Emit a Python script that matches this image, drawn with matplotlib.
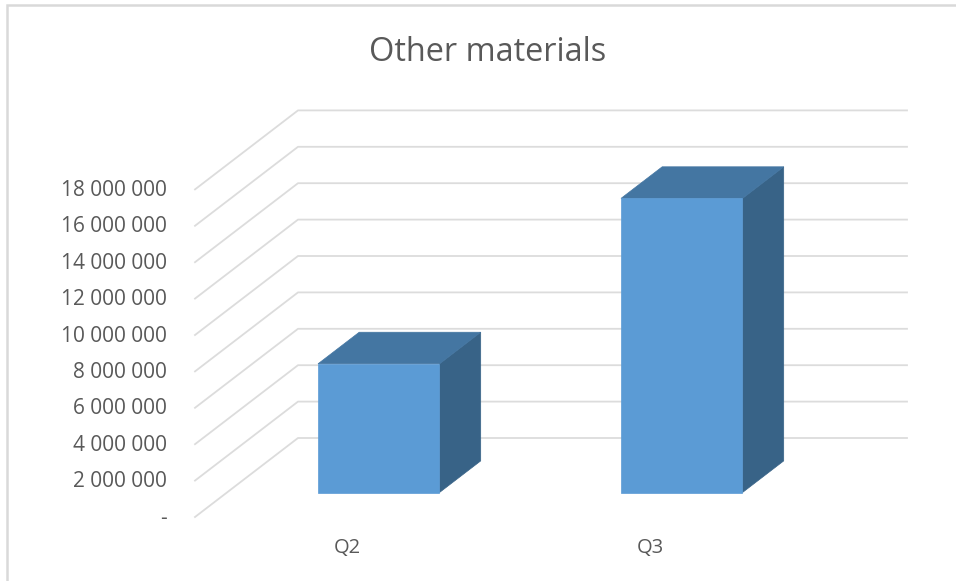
"""Other materials - 3D style column chart"""
import matplotlib
matplotlib.use('Agg')
import matplotlib.pyplot as plt
from matplotlib.patches import Polygon

plt.rcParams['font.family'] = ['Open Sans', 'DejaVu Sans']

categories = ['Q2', 'Q3']
values = [7070000, 16160000]
ticks = [0, 2000000, 4000000, 6000000, 8000000, 10000000, 12000000, 14000000, 16000000, 18000000]
tick_labels = ['-', '2 000 000', '4 000 000', '6 000 000', '8 000 000', '10 000 000',
               '12 000 000', '14 000 000', '16 000 000', '18 000 000']

W, H = 956, 581
PX_PER_UNIT = 36.4 / 2000000
FLOOR_Y = 517
DEPTH_X, DEPTH_Y = 103, 79
TEXT = '#595959'
GRID = '#dcdcdc'
FRONT, TOP, SIDE = '#5b9bd5', '#4476a2', '#386387'

fig = plt.figure(figsize=(W / 100, H / 100), dpi=100)
ax = fig.add_axes([0, 0, 1, 1])
ax.set_xlim(0, W)
ax.set_ylim((FLOOR_Y - H) / PX_PER_UNIT, FLOOR_Y / PX_PER_UNIT)
ax.axis('off')

def proj(x, v, d=0.0):
    # oblique projection: d is 0 at the front edge of the floor, 1 at the back wall
    return x + d * DEPTH_X, v + d * DEPTH_Y / PX_PER_UNIT

# chart frame, top and left only
ax.plot([7, 7, W], [(FLOOR_Y - H) / PX_PER_UNIT, (FLOOR_Y - 5) / PX_PER_UNIT, (FLOOR_Y - 5) / PX_PER_UNIT],
        color='#d9d9d9', lw=1.8, solid_joinstyle='miter')

# wall gridlines running back from the axis, then along the wall
for v, lab in zip(ticks, tick_labels):
    xs, ys = zip(proj(195, v), proj(195, v, 1), (907, proj(195, v, 1)[1]))
    ax.plot(xs, ys, color=GRID, lw=1.3, zorder=1)
    ax.text(167, v - 1.2 / PX_PER_UNIT, lab, ha='right', va='center', fontsize=15, color=TEXT)

# columns
bar_left = [318, 621]
bar_w = 121.5
d0, d1 = 0.31, 0.71
for x0, v, cat in zip(bar_left, values, categories):
    x0 = x0 - d0 * DEPTH_X
    x1 = x0 + bar_w
    front = [proj(x0, 0, d0), proj(x1, 0, d0), proj(x1, v, d0), proj(x0, v, d0)]
    top = [proj(x0, v, d0), proj(x1, v, d0), proj(x1, v, d1), proj(x0, v, d1)]
    side = [proj(x1, 0, d0), proj(x1, 0, d1), proj(x1, v, d1), proj(x1, v, d0)]
    ax.add_patch(Polygon(side, fc=SIDE, ec=SIDE, lw=0.5, zorder=3))
    ax.add_patch(Polygon(top, fc=TOP, ec=TOP, lw=0.5, zorder=3))
    ax.add_patch(Polygon(front, fc=FRONT, ec=FRONT, lw=0.5, zorder=4))
    ax.text(x0 + d0 * DEPTH_X + 29.5, (FLOOR_Y - 548) / PX_PER_UNIT, cat,
            ha='center', va='center', fontsize=14.5, color=TEXT)

ax.text(488, (FLOOR_Y - 52.5) / PX_PER_UNIT, 'Other materials', ha='center', va='center',
        fontsize=23.4, color=TEXT)

plt.savefig('out.png', dpi=100, facecolor='white')
plt.close()
